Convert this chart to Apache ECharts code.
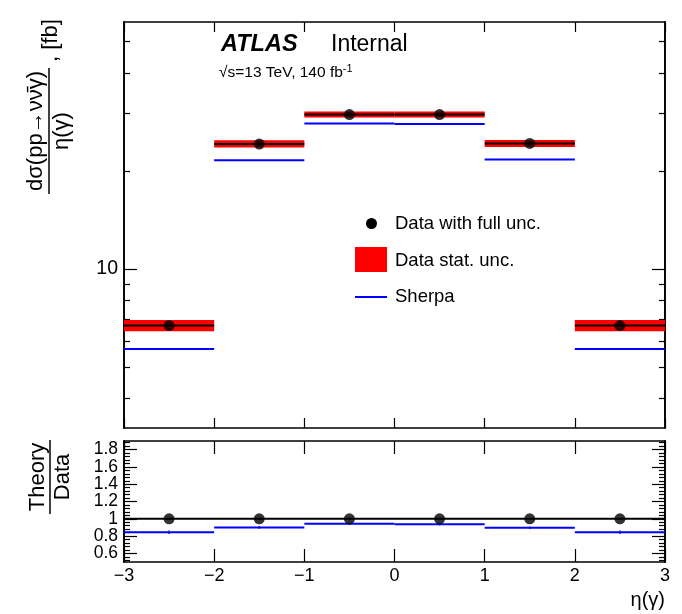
<!DOCTYPE html>
<html><head><meta charset="utf-8">
<script src="https://cdn.jsdelivr.net/npm/echarts@6/dist/echarts.min.js"></script>
<style>html,body{margin:0;padding:0;background:#fff}#c{width:682px;height:614px}</style>
</head><body><div id="c"></div>
<script>
// ---- data ----
const binLow = [-3, -2, -1, 0, 1, 2];
const binHigh = [-2, -1, 0, 1, 2, 3];
const binCenters = [-2.5, -1.5, -0.5, 0.5, 1.5, 2.5];
const dataValues = [6.71, 24.2, 29.8, 29.8, 24.3, 6.71];
const statLow = [6.45, 23.6, 29.2, 29.2, 23.7, 6.45];
const statHigh = [6.98, 24.85, 30.45, 30.45, 24.9, 6.98];
const sherpaValues = [5.68, 21.6, 28.0, 27.9, 21.7, 5.68];
const dataRatio = [1, 1, 1, 1, 1, 1];
const sherpaRatio = [0.845, 0.90, 0.942, 0.938, 0.896, 0.845];
const sherpaRatioErr = [0.02, 0.015, 0.015, 0.015, 0.015, 0.02];
const ratioReference = 1;
const upperMajorTicks = [10];
const upperMinorTicks = [4, 5, 6, 7, 8, 9, 20, 30, 40, 50];
const ratioMajorTicks = [0.6, 0.8, 1, 1.2, 1.4, 1.6, 1.8];
const ratioLabelsA = [0.6, 1, 1.4, 1.8];
const ratioLabelsB = [0.8, 1.2, 1.6];
const ratioMinorTicks = [0.52, 0.56, 0.64, 0.68, 0.72, 0.76, 0.84, 0.88, 0.92, 0.96, 1.04, 1.08, 1.12, 1.16, 1.24, 1.28, 1.32, 1.36, 1.44, 1.48, 1.52, 1.56, 1.64, 1.68, 1.72, 1.76, 1.84, 1.88];
const xTicks = [-3, -2, -1, 0, 1, 2, 3];
const xTickLabels = ['\u22123', '\u22122', '\u22121', '0', '1', '2', '3'];

const FONT = '"Liberation Sans", Arial, Helvetica, sans-serif';
const BLACK = '#000000', RED = '#ff0000', BLUE = '#0000ff';

const chart = echarts.init(document.getElementById('c'), null, {renderer: 'canvas'});

const bandRows = binLow.map((x, i) => [x, binHigh[i], statLow[i], statHigh[i]]);
const dataLineRows = binLow.map((x, i) => [x, binHigh[i], dataValues[i]]);
const sherpaRows = binLow.map((x, i) => [x, binHigh[i], sherpaValues[i]]);
const dataPts = binCenters.map((x, i) => [x, dataValues[i]]);
const ratioPts = binCenters.map((x, i) => [x, dataRatio[i]]);
const sherpaRatioRows = binLow.map((x, i) => [x, binHigh[i], sherpaRatio[i], binCenters[i], sherpaRatioErr[i]]);

function hline(color, width) {
  return function (params, api) {
    const p0 = api.coord([api.value(0), api.value(2)]);
    const p1 = api.coord([api.value(1), api.value(2)]);
    return {type: 'line', shape: {x1: p0[0], y1: p0[1], x2: p1[0], y2: p1[1]}, style: {stroke: color, lineWidth: width}};
  };
}

const frameLine = {show: true, onZero: false, lineStyle: {color: BLACK, width: 1.6}};
function xAx(grid, pos, labels) {
  return {
    gridIndex: grid, type: 'value', min: -3, max: 3, interval: 1, position: pos,
    axisLine: frameLine,
    axisTick: {show: true, inside: true, length: grid === 0 ? 10 : 13, lineStyle: {color: BLACK, width: 1.2}},
    axisLabel: labels ? {show: true, color: BLACK, fontSize: 18, fontFamily: FONT, margin: 5,
      showMinLabel: true, showMaxLabel: true, hideOverlap: false,
      formatter: v => xTickLabels[xTicks.indexOf(Math.round(v))]} : {show: false},
    splitLine: {show: false}
  };
}
function yAx(grid, pos, type, min, max, ticks, len, labelValues, fmt, fs) {
  return {
    gridIndex: grid, type: type, min: min, max: max, position: pos,
    axisLine: frameLine,
    axisTick: {show: true, inside: true, length: len, customValues: ticks, lineStyle: {color: BLACK, width: 1.2}},
    axisLabel: labelValues ? {show: true, customValues: labelValues, color: BLACK, fontSize: fs, fontFamily: FONT, margin: 6,
      showMinLabel: true, showMaxLabel: true, hideOverlap: false, formatter: fmt} : {show: false},
    splitLine: {show: false}, minorTick: {show: false}
  };
}
const yMin = 3.2525, yMax = 57.35;
const ratioFmt = v => String(Math.round(v * 10) / 10);

const option = {
  animation: false,
  backgroundColor: '#ffffff',
  grid: [
    {left: 124, top: 22, width: 541, height: 406},
    {left: 124, top: 441, width: 541, height: 121}
  ],
  xAxis: [xAx(0, 'bottom', false), xAx(0, 'top', false), xAx(1, 'bottom', true), xAx(1, 'top', false)],
  yAxis: [
    yAx(0, 'left', 'log', yMin, yMax, upperMajorTicks, 13, upperMajorTicks, v => String(Math.round(v)), 19.5),
    yAx(0, 'left', 'log', yMin, yMax, upperMinorTicks, 6, null),
    yAx(0, 'right', 'log', yMin, yMax, upperMajorTicks, 13, null),
    yAx(0, 'right', 'log', yMin, yMax, upperMinorTicks, 6, null),
    yAx(1, 'left', 'value', 0.5, 1.9, ratioMajorTicks, 13, ratioLabelsA, ratioFmt, 17.5),
    yAx(1, 'left', 'value', 0.5, 1.9, ratioMinorTicks, 6, ratioLabelsB, ratioFmt, 17.5),
    yAx(1, 'right', 'value', 0.5, 1.9, ratioMajorTicks, 13, null),
    yAx(1, 'right', 'value', 0.5, 1.9, ratioMinorTicks, 6, null)
  ],
  series: [
    {type: 'custom', name: 'Data stat. unc.', xAxisIndex: 0, yAxisIndex: 0, silent: true, z: 2,
      data: bandRows, encode: {x: [0, 1], y: [2, 3]},
      renderItem: (params, api) => {
        const p0 = api.coord([api.value(0), api.value(3)]);
        const p1 = api.coord([api.value(1), api.value(2)]);
        return {type: 'rect', shape: {x: p0[0], y: p0[1], width: p1[0] - p0[0], height: p1[1] - p0[1]}, style: {fill: RED}};
      }},
    {type: 'custom', name: 'data line', xAxisIndex: 0, yAxisIndex: 0, silent: true, z: 3,
      data: dataLineRows, encode: {x: [0, 1], y: 2}, renderItem: hline(BLACK, 2)},
    {type: 'custom', name: 'Sherpa', xAxisIndex: 0, yAxisIndex: 0, silent: true, z: 3,
      data: sherpaRows, encode: {x: [0, 1], y: 2}, renderItem: hline(BLUE, 2)},
    {type: 'scatter', name: 'Data with full unc.', xAxisIndex: 0, yAxisIndex: 0, z: 4, silent: true,
      data: dataPts, symbol: 'circle', symbolSize: 11, itemStyle: {color: BLACK}},
    // ratio panel
    {type: 'line', xAxisIndex: 2, yAxisIndex: 4, silent: true, z: 3, symbol: 'none',
      data: [[xTicks[0], ratioReference], [xTicks[xTicks.length - 1], ratioReference]],
      lineStyle: {color: BLACK, width: 2}},
    {type: 'custom', xAxisIndex: 2, yAxisIndex: 4, silent: true, z: 3,
      data: sherpaRatioRows, encode: {x: [0, 1], y: 2},
      renderItem: (params, api) => {
        const p0 = api.coord([api.value(0), api.value(2)]);
        const p1 = api.coord([api.value(1), api.value(2)]);
        const e0 = api.coord([api.value(3), api.value(2) - api.value(4)]);
        const e1 = api.coord([api.value(3), api.value(2) + api.value(4)]);
        return {type: 'group', children: [
          {type: 'line', shape: {x1: p0[0], y1: p0[1], x2: p1[0], y2: p1[1]}, style: {stroke: BLUE, lineWidth: 2}},
          {type: 'line', shape: {x1: e0[0], y1: e0[1], x2: e1[0], y2: e1[1]}, style: {stroke: BLUE, lineWidth: 1.5}}
        ]};
      }},
    {type: 'scatter', xAxisIndex: 2, yAxisIndex: 4, z: 4, silent: true,
      data: ratioPts, symbol: 'circle', symbolSize: 11, itemStyle: {color: BLACK}}
  ],
  graphic: [
    // Upper y-axis title (rotated fraction)
    {type: 'group', x: 49, y: 131, rotation: Math.PI / 2, children: [
      {type: 'text', x: 0, y: -13, style: {text: 'd\u03c3(pp\u2192\u03bd\u03bd\u0304\u03b3)', fontSize: 22, fontFamily: FONT, fill: BLACK, align: 'center', verticalAlign: 'middle'}},
      {type: 'line', shape: {x1: -63, y1: 0, x2: 63, y2: 0}, style: {stroke: BLACK, lineWidth: 1.5}},
      {type: 'text', x: 0, y: 13, style: {text: '\u03b7(\u03b3)', fontSize: 22, fontFamily: FONT, fill: BLACK, align: 'center', verticalAlign: 'middle'}},
      {type: 'text', x: 69, y: 2, style: {text: ', [fb]', fontSize: 22, fontFamily: FONT, fill: BLACK, align: 'left', verticalAlign: 'middle'}}
    ]},
    // Ratio y-axis title
    {type: 'group', x: 50, y: 477, rotation: Math.PI / 2, children: [
      {type: 'text', x: 0, y: -12, style: {text: 'Theory', fontSize: 22, fontFamily: FONT, fill: BLACK, align: 'center', verticalAlign: 'middle'}},
      {type: 'line', shape: {x1: -37, y1: 0, x2: 37, y2: 0}, style: {stroke: BLACK, lineWidth: 1.5}},
      {type: 'text', x: 0, y: 13, style: {text: 'Data', fontSize: 22, fontFamily: FONT, fill: BLACK, align: 'center', verticalAlign: 'middle'}}
    ]},
    // x-axis title
    {type: 'text', x: 665, y: 600, style: {text: '\u03b7(\u03b3)', fontSize: 20, fontFamily: FONT, fill: BLACK, align: 'right', verticalAlign: 'middle'}},
    // ATLAS label
    {type: 'text', x: 221, y: 45, style: {text: 'ATLAS', fontSize: 23.5, fontWeight: 'bold', fontStyle: 'italic', fontFamily: FONT, fill: BLACK, align: 'left', verticalAlign: 'middle'}},
    {type: 'text', x: 331, y: 45, style: {text: 'Internal', fontSize: 23, fontFamily: FONT, fill: BLACK, align: 'left', verticalAlign: 'middle'}},
    {type: 'text', x: 219, y: 73, style: {text: '{a|\u221as=13 TeV, 140 fb}{s|-1}', fontFamily: FONT, fill: BLACK, align: 'left', verticalAlign: 'middle',
      rich: {a: {fontSize: 15.5, fontFamily: FONT, fill: BLACK}, s: {fontSize: 11, fontFamily: FONT, fill: BLACK, padding: [0, 0, 9, 0]}}}},
    // legend
    {type: 'circle', shape: {cx: 371.5, cy: 223.5, r: 5.5}, style: {fill: BLACK}},
    {type: 'text', x: 395, y: 224, style: {text: 'Data with full unc.', fontSize: 18.5, fontFamily: FONT, fill: BLACK, align: 'left', verticalAlign: 'middle'}},
    {type: 'rect', shape: {x: 355, y: 247, width: 32, height: 25}, style: {fill: RED}},
    {type: 'text', x: 395, y: 261, style: {text: 'Data stat. unc.', fontSize: 18.5, fontFamily: FONT, fill: BLACK, align: 'left', verticalAlign: 'middle'}},
    {type: 'line', shape: {x1: 355, y1: 297, x2: 387, y2: 297}, style: {stroke: BLUE, lineWidth: 2}},
    {type: 'text', x: 395, y: 297, style: {text: 'Sherpa', fontSize: 18.5, fontFamily: FONT, fill: BLACK, align: 'left', verticalAlign: 'middle'}}
  ]
};
chart.setOption(option);
</script>
</body></html>
